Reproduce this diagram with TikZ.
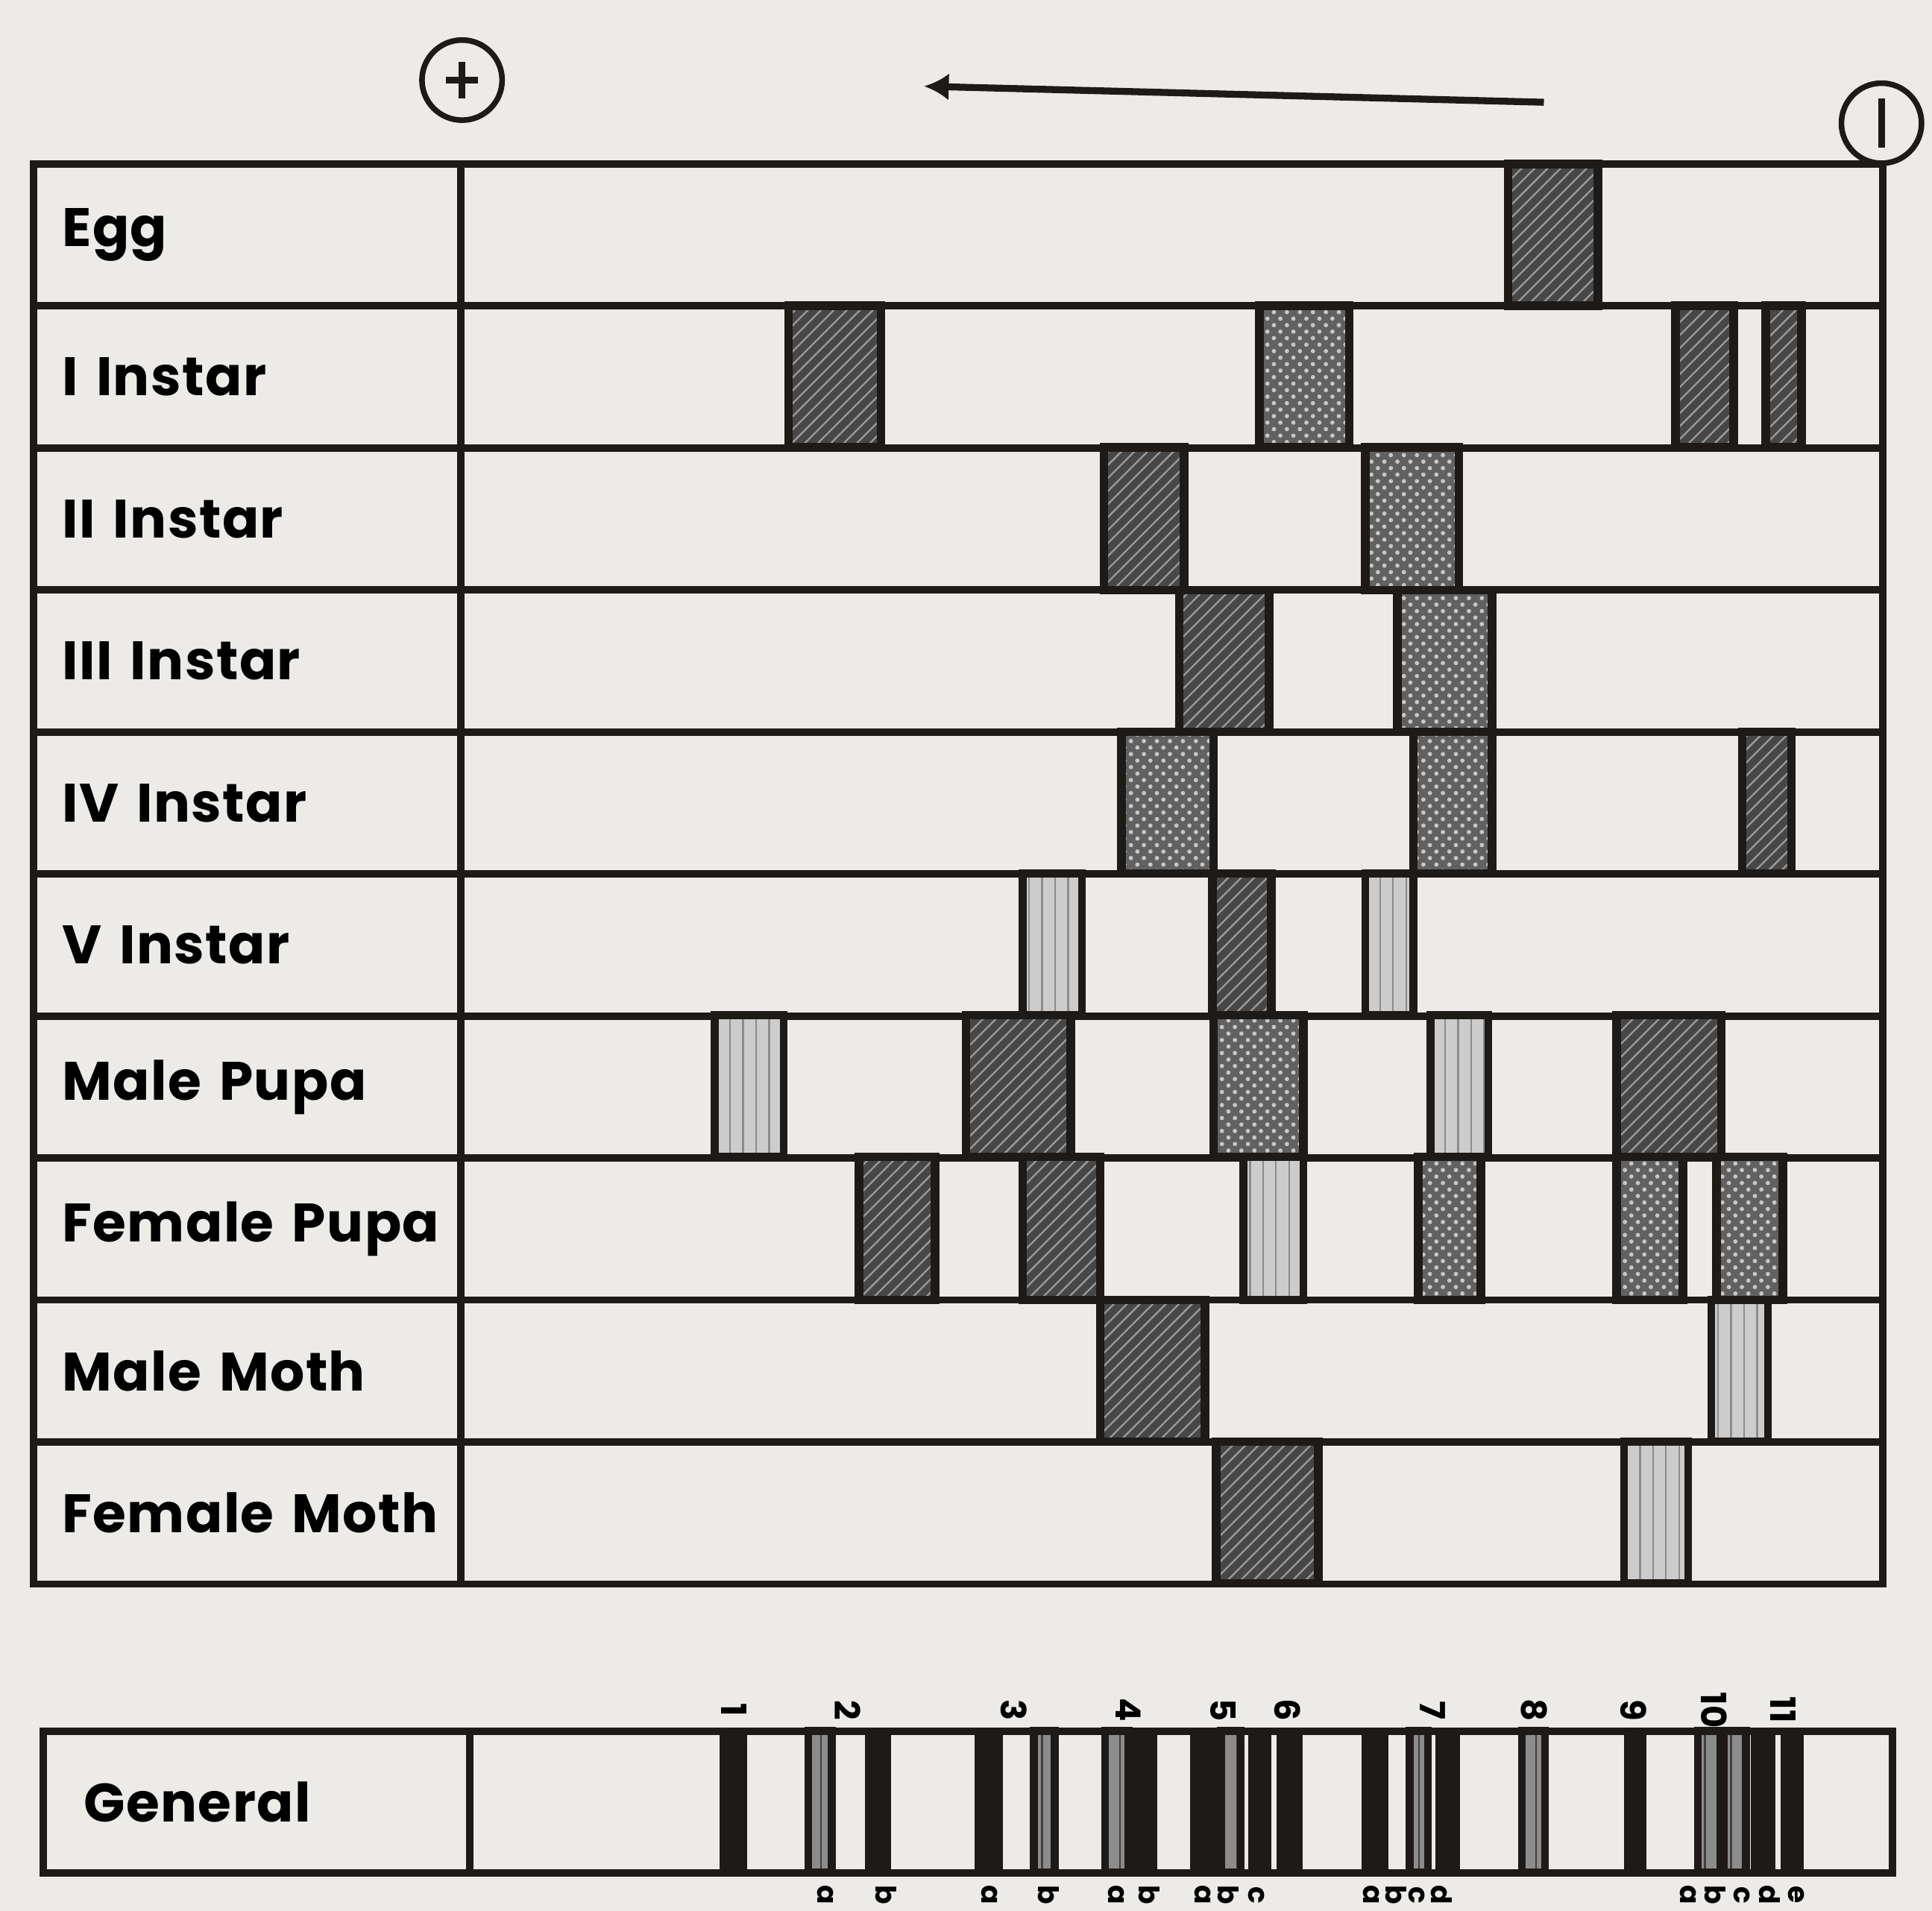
\documentclass[tikz,border=0pt]{standalone}
\usepackage{fontspec}
\newfontfamily\lblfont[LetterSpace=2]{Poppins}
\usetikzlibrary{arrows.meta, positioning, patterns}
\definecolor{paper}{RGB}{237,235,232}
\definecolor{ink}{RGB}{30,26,24}

\begin{document}
\begin{tikzpicture}[
        x=0.01cm, y=-0.01cm,
        cell/.style={
            draw=ink,
            line width=1.7pt,
            outer sep=0pt,
            minimum height=1.152cm,
            text width=3.0cm,
            inner xsep=0.235cm,
            align=left,
            font=\lblfont\bfseries\fontsize{12.5}{15}\selectfont
        },
        lane/.style={draw=ink, line width=1.7pt, outer sep=0pt, minimum height=1.152cm, minimum width=11.53cm},
        darkband/.style={draw=ink, line width=2pt, preaction={fill=black!72}, pattern=north east lines, pattern color=black!40},
        dotband/.style={draw=ink, line width=2pt, preaction={fill=black!62}, pattern=crosshatch dots, pattern color=black!22},
        lightband/.style={draw=ink, line width=1.8pt, preaction={fill=black!20}, pattern=vertical lines, pattern color=black!45},
        genbar/.style={draw=ink, line width=1.2pt, fill=ink},
        genstripe/.style={draw=ink, line width=1.8pt, preaction={fill=black!45}, pattern=vertical lines, pattern color=black!75},
        sign/.style={draw=ink, circle, line width=1.3pt, minimum size=0.65cm, inner sep=0pt},
        signbar/.style={draw=ink, line width=1.6pt},
        flow/.style={-{Latex[length=2mm, width=2.2mm]}, draw=ink, line width=1.6pt},
        num/.style={rotate=-90, inner sep=0pt, font=\lblfont\bfseries\fontsize{8}{9}\selectfont},
        sub/.style={rotate=-90, inner sep=0pt, font=\lblfont\bfseries\fontsize{6.5}{7}\selectfont}
    ]
    \path[use as bounding box, fill=paper] (0,0) rectangle (1568,1551);

    % electrode signs and direction of run
    \node[sign] (anode) at (375,65) {};
    \draw[signbar] ([xshift=-0.13cm]anode.center) -- ([xshift=0.13cm]anode.center);
    \draw[signbar] ([yshift=-0.15cm]anode.center) -- ([yshift=0.15cm]anode.center);
    \node[sign] (cathode) at (1527,100) {};
    \draw[signbar] ([yshift=-0.2cm]cathode.center) -- ([yshift=0.2cm]cathode.center);
    \coordinate (runstart) at (1253,83);
    \coordinate (runend) at (750,70);
    \draw[flow] (runstart) -- (runend);

    % stage rows
    \node[cell, anchor=north west] (egg) at (27,133) {Egg};
    \node[cell, below=0pt of egg] (inst1) {I~Instar};
    \node[cell, below=0pt of inst1] (inst2) {II~Instar};
    \node[cell, below=0pt of inst2] (inst3) {III~Instar};
    \node[cell, below=0pt of inst3] (inst4) {IV~Instar};
    \node[cell, below=0pt of inst4] (inst5) {V~Instar};
    \node[cell, below=0pt of inst5] (mpupa) {Male~Pupa};
    \node[cell, below=0pt of mpupa] (fpupa) {Female~Pupa};
    \node[cell, below=0pt of fpupa] (mmoth) {Male~Moth};
    \node[cell, below=0pt of mmoth] (fmoth) {Female~Moth};

    \node[lane, right=0pt of egg] (egglane) {};
    \node[lane, right=0pt of inst1] (inst1lane) {};
    \node[lane, right=0pt of inst2] (inst2lane) {};
    \node[lane, right=0pt of inst3] (inst3lane) {};
    \node[lane, right=0pt of inst4] (inst4lane) {};
    \node[lane, right=0pt of inst5] (inst5lane) {};
    \node[lane, right=0pt of mpupa] (mpupalane) {};
    \node[lane, right=0pt of fpupa] (fpupalane) {};
    \node[lane, right=0pt of mmoth] (mmothlane) {};
    \node[lane, right=0pt of fmoth] (fmothlane) {};

    % bands
    \draw[darkband] (1224,133) rectangle (1297,248);

    \draw[darkband] (640,248) rectangle (715,363);
    \draw[dotband] (1022,248) rectangle (1095,363);
    \draw[darkband] (1360,248) rectangle (1407,363);
    \draw[darkband] (1433,248) rectangle (1462,363);

    \draw[darkband] (896,363) rectangle (961,479);
    \draw[dotband] (1108,363) rectangle (1184,479);

    \draw[darkband] (957,479) rectangle (1030,594);
    \draw[dotband] (1134,479) rectangle (1211,594);

    \draw[dotband] (910,594) rectangle (985,709);
    \draw[dotband] (1147,594) rectangle (1211,709);
    \draw[darkband] (1414,594) rectangle (1454,709);

    \draw[lightband] (830,709) rectangle (878,824);
    \draw[darkband] (984,709) rectangle (1032,824);
    \draw[lightband] (1108,709) rectangle (1147,824);

    \draw[lightband] (580,824) rectangle (636,939);
    \draw[darkband] (784,824) rectangle (869,939);
    \draw[dotband] (985,824) rectangle (1058,939);
    \draw[lightband] (1161,824) rectangle (1208,939);
    \draw[darkband] (1312,824) rectangle (1397,939);

    \draw[darkband] (697,939) rectangle (759,1055);
    \draw[darkband] (830,939) rectangle (893,1055);
    \draw[lightband] (1009,939) rectangle (1058,1055);
    \draw[dotband] (1151,939) rectangle (1202,1055);
    \draw[dotband] (1312,939) rectangle (1366,1055);
    \draw[dotband] (1393,939) rectangle (1447,1055);

    \draw[darkband] (893,1055) rectangle (978,1170);
    \draw[lightband] (1389,1055) rectangle (1435,1170);

    \draw[darkband] (987,1170) rectangle (1070,1285);
    \draw[lightband] (1318,1170) rectangle (1370,1285);

    % general pattern
    \node[cell, anchor=north west, inner xsep=0.33cm, text width=2.8cm] (general) at (35,1405) {General};
    \node[lane, right=0pt of general, minimum width=11.54cm] (generallane) {};

    \draw[genbar] (586,1405) rectangle (604,1520);
    \draw[genstripe] (656,1405) rectangle (675,1520);
    \draw[genbar] (704,1405) rectangle (721,1520);
    \draw[genbar] (793,1405) rectangle (812,1520);
    \draw[genstripe] (839,1405) rectangle (856,1520);
    \draw[genstripe] (897,1405) rectangle (916,1520);
    \draw[genbar] (920,1405) rectangle (937,1520);
    \draw[genbar] (968,1405) rectangle (986,1520);
    \draw[genstripe] (991,1405) rectangle (1007,1520);
    \draw[genbar] (1015,1405) rectangle (1030,1520);
    \draw[genbar] (1038,1405) rectangle (1055,1520);
    \draw[genbar] (1107,1405) rectangle (1125,1520);
    \draw[genstripe] (1144,1405) rectangle (1159,1520);
    \draw[genbar] (1167,1405) rectangle (1183,1520);
    \draw[genstripe] (1235,1405) rectangle (1254,1520);
    \draw[genbar] (1320,1405) rectangle (1334,1520);
    \draw[genstripe] (1378,1405) rectangle (1396,1520);
    \draw[genstripe] (1399,1405) rectangle (1417,1520);
    \draw[genbar] (1423,1405) rectangle (1439,1520);
    \draw[genbar] (1447,1405) rectangle (1462,1520);

    \foreach \x/\n in {596/1, 688/2, 823/3, 916/4, 993/5, 1045/6, 1163/7, 1245/8, 1326/9, 1391/10, 1447/11}
        \node[num] (band\n) at (\x,1388) {\n};

    \foreach \x/\s/\n in {670/a/2a, 719/b/2b, 803/a/3a, 851/b/3b, 906/a/4a, 933/b/4b,
                          976/a/5a, 997/b/5b, 1020/c/5c, 1113/a/7a, 1133/b/7b, 1150/c/7c, 1170/d/7d,
                          1370/a/10a, 1392/b/10b, 1414/c/10c, 1436/d/10d, 1458/e/10e}
        \node[sub] (sub\n) at (\x,1538) {\s};
\end{tikzpicture}
\end{document}
